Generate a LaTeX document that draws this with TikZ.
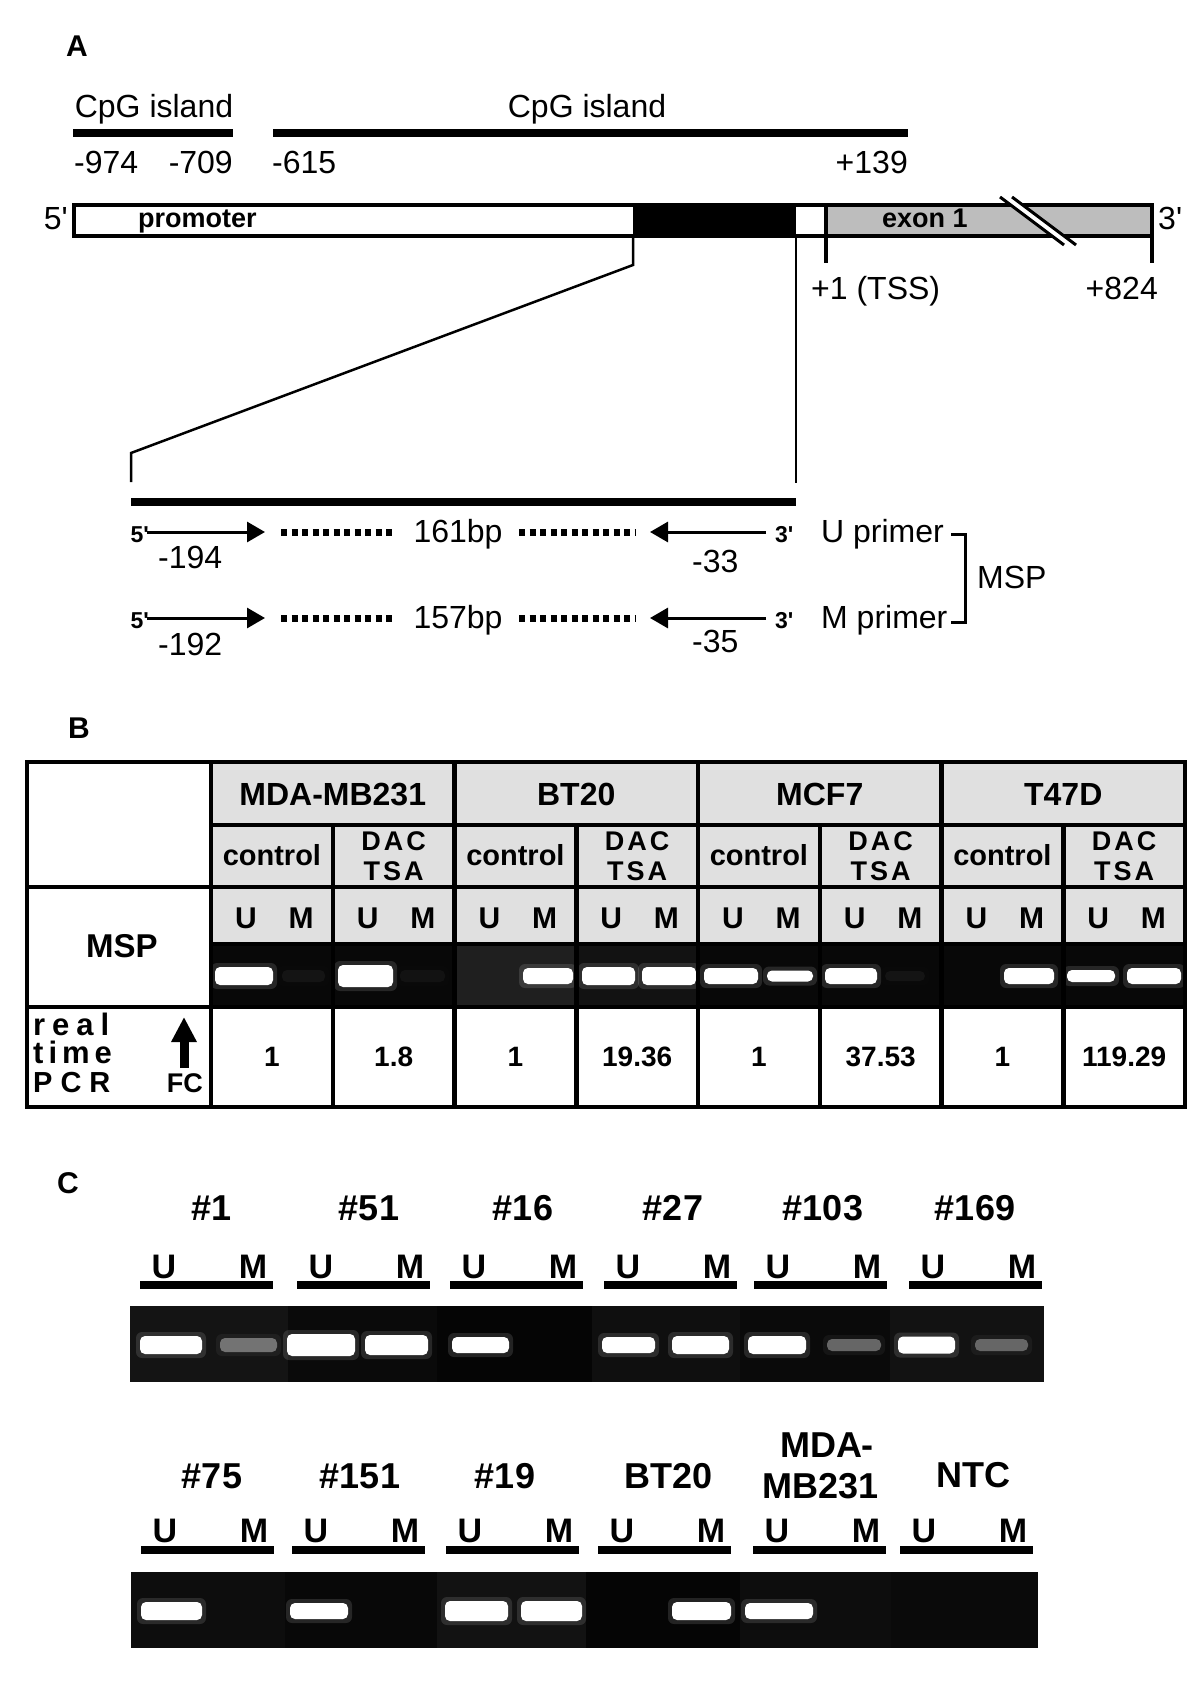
\documentclass[tikz,border=0pt]{standalone}
\usepackage{fontspec}
\setmainfont{Liberation Sans}[Ligatures=TeXOff]
\usetikzlibrary{arrows.meta,positioning,calc}

\begin{document}
\begin{tikzpicture}[x=1pt,y=-1pt,every node/.style={inner sep=0pt}]
\tikzset{myFont/.style={font=\fontsize{32}{38}\selectfont}}
\tikzset{myBold/.style={font=\fontsize{#1}{#1}\selectfont\bfseries}}
\tikzset{cpgBar/.style={line width=8pt}}
\tikzset{geneLine/.style={line width=3.5pt}}
\tikzset{zoomLine/.style={line width=2.5pt}}
\tikzset{primer/.style={line width=3pt,-{Triangle[length=18pt,width=20pt]}}}
\tikzset{dotLine/.style={line width=7pt,dash pattern=on 6pt off 4.5pt}}
\tikzset{gridLine/.style={line width=4.5pt}}
\tikzset{laneBar/.style={line width=8pt}}
\tikzset{bandGlow/.style={rounded corners=6pt,opacity=0.12}}
\tikzset{bandCore/.style={rounded corners=5pt}}

\fill[white] (0,0) rectangle (1200,1705);
\useasboundingbox (0,0) rectangle (1200,1705);

\node[myBold=30,anchor=base west] (panelA) at (66,56) {A};
\node[myFont,anchor=base] (cpgLeft) at (154,117) {CpG island};
\node[myFont,anchor=base] (cpgRight) at (587,117) {CpG island};
\draw[cpgBar] (73,133) -- (233,133);
\draw[cpgBar] (273,133) -- (908,133);
\node[myFont,anchor=base west] (p974) at (74,173) {-974};
\node[myFont,anchor=base east] (p709) at (233,173) {-709};
\node[myFont,anchor=base west] (p615) at (272,173) {-615};
\node[myFont,anchor=base east] (p139) at (908,173) {+139};

\fill[black] (633,205) rectangle (796,236);
\fill[black!26] (826,205) rectangle (1152,236);
\draw[geneLine] (74,205) rectangle (1152,236);
\draw[geneLine] (826,205) -- (826,263);
\draw[geneLine] (1152,236) -- (1152,263);
\fill[white] (1000,197) -- (1012,197) -- (1076,245) -- (1064,245) -- cycle;
\draw[line width=3pt] (1000,197) -- (1064,245) (1012,197) -- (1076,245);
\node[myFont,anchor=base east] (fiveEnd) at (68,229) {5'};
\node[myFont,anchor=base west] (threeEnd) at (1158,229) {3'};
\node[myBold=27,anchor=base west] (promoter) at (138,227) {promoter};
\node[myBold=27,anchor=base west] (exon) at (882,227) {exon 1};
\node[myFont,anchor=base west] (tss) at (811,299) {+1 (TSS)};
\node[myFont,anchor=base east] (p824) at (1158,299) {+824};

\coordinate (boxL) at (633,236);
\coordinate (boxR) at (796,236);
\coordinate (ampL) at (131,482);
\coordinate (ampR) at (796,483);
\draw[zoomLine] (boxL) -- (633,265) -- (131,453) -- (ampL);
\draw[zoomLine] (boxR) -- (ampR);
\draw[cpgBar] (131,502) -- (796,502);

\node[myBold=23,anchor=base east] (uPrim5) at (149,542) {5'};
\coordinate (uFwdA) at (147,532);
\coordinate (uFwdB) at (265,532);
\draw[primer] (uFwdA) -- (uFwdB);
\draw[dotLine] (281,532) -- (396,532);
\node[myFont,anchor=base] (uLen) at (458,542) {161bp};
\draw[dotLine] (519,532) -- (636,532);
\coordinate (uRevA) at (766,532);
\coordinate (uRevB) at (650,532);
\draw[primer] (uRevA) -- (uRevB);
\node[myBold=23,anchor=base west] (uPrim3) at (775,542) {3'};
\node[myFont,anchor=base west] (uName) at (821,542) {U primer};
\node[myFont,anchor=base west] (u194) at (158,568) {-194};
\node[myFont,anchor=base west] (u33) at (692,572) {-33};

\node[myBold=23,anchor=base east] (mPrim5) at (149,628) {5'};
\coordinate (mFwdA) at (147,618);
\coordinate (mFwdB) at (265,618);
\draw[primer] (mFwdA) -- (mFwdB);
\draw[dotLine] (281,618) -- (396,618);
\node[myFont,anchor=base] (mLen) at (458,628) {157bp};
\draw[dotLine] (519,618) -- (636,618);
\coordinate (mRevA) at (766,618);
\coordinate (mRevB) at (650,618);
\draw[primer] (mRevA) -- (mRevB);
\node[myBold=23,anchor=base west] (mPrim3) at (775,628) {3'};
\node[myFont,anchor=base west] (mName) at (821,628) {M primer};
\node[myFont,anchor=base west] (m192) at (158,655) {-192};
\node[myFont,anchor=base west] (m35) at (692,652) {-35};

\coordinate (brU) at (951,534);
\coordinate (brM) at (951,622);
\draw[line width=3pt] (brU) -- ++(14,0) |- (brM);
\node[myFont,anchor=base west] (mspA) at (977,588) {MSP};

\node[myBold=30,anchor=base west] (panelB) at (68,738) {B};
\fill[black!12] (211,762) rectangle (1185,944);
\fill[black!97] (211,944) rectangle (1185,1007);
\fill[black!88] (454.5,944) rectangle (576.25,1007);
\fill[black!93] (576.25,944) rectangle (698,1007);
\foreach \xa/\xb/\h/\b in {215/273/18/100,282/325/12/8,338/393/22/100,400/445/12/7,523/573/16/100,582/635/18/100,642/696/18/100,704/758/16/100,767/813/11/100,825/877/16/100,885/925/10/8,1004/1054/16/100,1067/1115/12/100,1127/1181/16/100} {
  \fill[bandGlow,fill=white!\b!black] (\xa-4,976-\h/2-4) rectangle (\xb+4,976+\h/2+4);
  \fill[bandCore,fill=white!\b!black] (\xa,976-\h/2) rectangle (\xb,976+\h/2);
}
\draw[gridLine] (27,762) rectangle (1185,1107);
\draw[gridLine] (211,762) -- (211,1107);
\foreach \gx in {454.5,698,941.5} \draw[gridLine] (\gx,762) -- (\gx,1107);
\foreach \sx in {332.75,576.25,819.75,1063.25} \draw[gridLine] (\sx,825) -- (\sx,1107);
\draw[gridLine] (211,825) -- (1185,825);
\draw[gridLine] (27,887) -- (1185,887);
\draw[gridLine] (211,944) -- (1185,944);
\draw[gridLine] (27,1007) -- (1185,1007);

\foreach \cell [count=\i from 0] in {MDA-MB231,BT20,MCF7,T47D}
  \node[myBold=32,anchor=base] (cellLine\i) at (332.75+243.5*\i,805) {\cell};
\foreach \i in {0,...,3} {
  \node[myBold=29,anchor=base] (ctrl\i) at (271.9+243.5*\i,865) {control};
  \node[myBold=27,anchor=base] (dac\i) at (393.6+243.5*\i,850) {D\hspace{3pt}A\hspace{3pt}C};
  \node[myBold=27,anchor=base] (tsa\i) at (393.6+243.5*\i,880) {T\hspace{3pt}S\hspace{3pt}A};
}
\foreach \j in {0,...,7} {
  \node[myBold=30,anchor=base] (laneU\j) at (246+121.75*\j,928) {U};
  \node[myBold=30,anchor=base] (laneM\j) at (301+121.75*\j,928) {M};
}
\node[myBold=33,anchor=base] (mspB) at (122,957) {MSP};
\node[myBold=31,anchor=base west] (rtReal) at (33,1035) {r\hspace{7pt}e\hspace{7pt}a\hspace{7pt}l};
\node[myBold=31,anchor=base west] (rtTime) at (33,1063) {t\hspace{5pt}i\hspace{5pt}m\hspace{5pt}e};
\node[myBold=29,anchor=base west] (rtPcr) at (33,1092) {P\hspace{8pt}C\hspace{8pt}R};
\coordinate (fcLow) at (184,1068);
\coordinate (fcTop) at (184,1017);
\draw[line width=9pt,-{Triangle[length=25pt,width=24pt]}] (fcLow) -- (fcTop);
\node[myBold=27,anchor=base east] (fcLabel) at (203,1092) {FC};
\foreach \fc [count=\j from 0] in {1,1.8,1,19.36,1,37.53,1,119.29}
  \node[myBold=28,anchor=base] (fold\j) at (271.9+121.75*\j,1066) {\fc};

\node[myBold=30,anchor=base west] (panelC) at (57,1193) {C};
\foreach \bx/\lx/\lab [count=\k] in {140/212/\#1,297/369/\#51,450/523/\#16,604/673/\#27,754/823/\#103,909/975/\#169} {
  \node[myBold=36,anchor=base] (topName\k) at (\lx,1220) {\lab};
  \node[myBold=34,anchor=base] (topU\k) at (\bx+24,1278) {U};
  \node[myBold=34,anchor=base] (topM\k) at (\bx+113,1278) {M};
  \draw[laneBar] (\bx,1285) -- (\bx+133,1285);
}
\foreach \ga/\gb/\gs in {130/288/92,288/437/96,437/592/98,592/740/94,740/890/96,890/1044/93}
  \fill[black!\gs] (\ga,1306) rectangle (\gb,1382);
\foreach \xa/\xb/\h/\b in {140/202/18/100,220/277/14/45,287/355/22/100,365/428/20/100,452/509/16/100,602/655/16/100,672/729/18/100,748/806/18/100,827/881/12/40,898/955/17/100,975/1028/12/40} {
  \fill[bandGlow,fill=white!\b!black] (\xa-4,1345-\h/2-4) rectangle (\xb+4,1345+\h/2+4);
  \fill[bandCore,fill=white!\b!black] (\xa,1345-\h/2) rectangle (\xb,1345+\h/2);
}

\foreach \bx [count=\k] in {141,292,446,598,753,900} {
  \node[myBold=34,anchor=base] (lowU\k) at (\bx+24,1542) {U};
  \node[myBold=34,anchor=base] (lowM\k) at (\bx+113,1542) {M};
  \draw[laneBar] (\bx,1550) -- (\bx+133,1550);
}
\node[myBold=36,anchor=base] (lowName1) at (212,1488) {\#75};
\node[myBold=36,anchor=base] (lowName2) at (360,1488) {\#151};
\node[myBold=36,anchor=base] (lowName3) at (505,1488) {\#19};
\node[myBold=36,anchor=base] (lowName4) at (669,1488) {BT20};
\node[myBold=36,anchor=base] (lowName5a) at (827,1457) {MDA-};
\node[myBold=36,anchor=base] (lowName5b) at (821,1498) {MB231};
\node[myBold=36,anchor=base] (lowName6) at (973,1487) {NTC};
\foreach \ga/\gb/\gs in {131/285/95,285/437/97,437/586/93,586/740/98,740/891/95,891/1038/96}
  \fill[black!\gs] (\ga,1572) rectangle (\gb,1648);
\foreach \xa/\xb/\h/\b in {141/202/18/100,290/348/16/100,445/508/20/100,521/582/20/100,672/731/18/100,745/813/16/100} {
  \fill[bandGlow,fill=white!\b!black] (\xa-4,1611-\h/2-4) rectangle (\xb+4,1611+\h/2+4);
  \fill[bandCore,fill=white!\b!black] (\xa,1611-\h/2) rectangle (\xb,1611+\h/2);
}
\end{tikzpicture}
\end{document}
